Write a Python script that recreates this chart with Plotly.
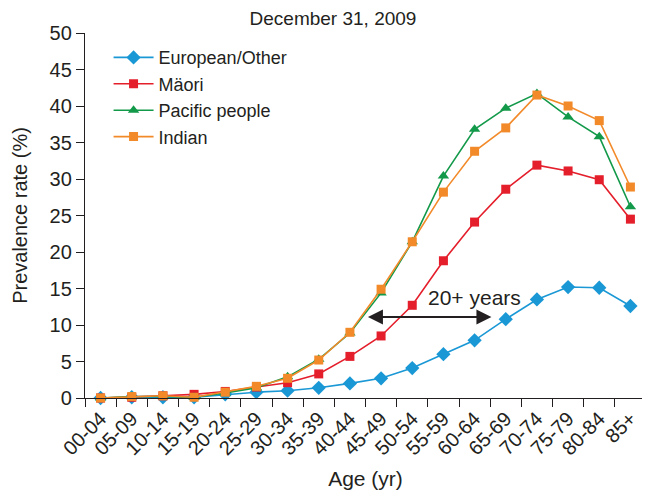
import plotly.graph_objects as go

ages = ["00-04", "05-09", "10-14", "15-19", "20-24", "25-29", "30-34", "35-39", "40-44",
        "45-49", "50-54", "55-59", "60-64", "65-69", "70-74", "75-79", "80-84", "85+"]

european = [0.0, 0.1, 0.1, 0.1, 0.5, 0.8, 1.0, 1.4, 2.0, 2.7, 4.1, 6.0, 7.9, 10.8, 13.5, 15.2, 15.1, 12.6]
maori = [0.0, 0.1, 0.3, 0.5, 0.9, 1.5, 2.1, 3.3, 5.7, 8.5, 12.7, 18.8, 24.1, 28.6, 31.9, 31.1, 29.9, 24.5]
pacific = [0.0, 0.2, 0.2, 0.1, 0.7, 1.4, 2.9, 5.3, 8.9, 14.4, 21.4, 30.4, 36.8, 39.7, 41.7, 38.5, 35.8, 26.2]
indian = [0.0, 0.2, 0.3, 0.1, 0.8, 1.6, 2.7, 5.2, 9.0, 14.9, 21.4, 28.2, 33.8, 37.0, 41.5, 40.0, 38.0, 28.9]

series = [
    ("European/Other", european, "#1a98d5", "diamond", 11),
    ("Mäori", maori, "#e41e2b", "square", 9),
    ("Pacific people", pacific, "#13994a", "triangle-up", 10),
    ("Indian", indian, "#f28a2a", "square", 9),
]

fig = go.Figure()
for name, vals, color, sym, size in series:
    fig.add_trace(go.Scatter(
        x=ages, y=vals, name=name, mode="lines+markers",
        line=dict(color=color, width=1.6),
        marker=dict(symbol=sym, size=size, color=color),
        cliponaxis=False,
    ))

font_family = "Liberation Sans, Arial, sans-serif"
ink = "#231f20"

fig.update_layout(
    width=650, height=496,
    margin=dict(l=69, r=12, t=25, b=106),
    paper_bgcolor="white", plot_bgcolor="white",
    font=dict(family=font_family, color=ink, size=20),
    title=dict(text="December 31, 2009", x=0.5, xanchor="center", y=0.992, yanchor="top",
               pad=dict(t=0, b=0, l=0, r=0), font=dict(size=19, color=ink)),
    showlegend=True,
    legend=dict(x=0.042, y=0.983, xanchor="left", yanchor="top", bgcolor="rgba(0,0,0,0)",
                font=dict(size=18, color=ink), tracegroupgap=0, itemwidth=40),
    xaxis=dict(
        type="category", range=[-0.5, 17.5], tickson="boundaries",
        showline=True, linecolor=ink, linewidth=1.3,
        ticks="outside", ticklen=8, tickcolor=ink, tickwidth=1.2,
        tickangle=-45, tickfont=dict(size=20), showgrid=False, zeroline=False,
        title=dict(text="Age (yr)", font=dict(size=21), standoff=13),
    ),
    yaxis=dict(
        range=[0, 50], tickmode="linear", tick0=0, dtick=5,
        showline=True, linecolor=ink, linewidth=1.3,
        ticks="outside", ticklen=8, tickcolor=ink, tickwidth=1.2,
        tickfont=dict(size=20), showgrid=False, zeroline=False,
        title=dict(text="Prevalence rate (%)", font=dict(size=20), standoff=16),
    ),
)

fig.add_annotation(
    x=12.54, y=11.1, ax=8.53, ay=11.1, xref="x", yref="y", axref="x", ayref="y",
    text="", showarrow=True, arrowhead=2, arrowside="end+start", arrowsize=1.5,
    arrowwidth=2, arrowcolor=ink,
)
fig.add_annotation(
    x=12.0, y=13.8, xref="x", yref="y", text="20+ years", showarrow=False,
    font=dict(size=21, color=ink),
)

fig.write_html("out.html")
